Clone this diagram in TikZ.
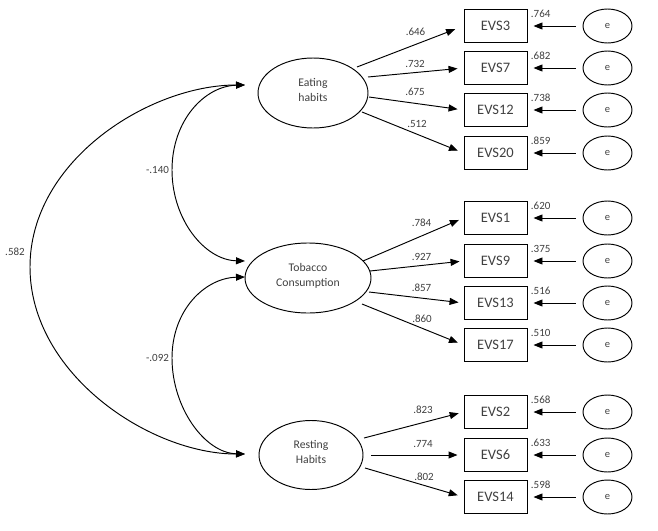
\documentclass[tikz,border=0pt]{standalone}
\usepackage{fontspec}
\setmainfont{Carlito}
\usetikzlibrary{arrows.meta,shapes.geometric,calc}
\definecolor{txt}{HTML}{404040}
\begin{document}
\begin{tikzpicture}[x=1pt,y=-1pt,line width=0.95pt,
  tip/.style={-{Triangle[length=9pt,width=7pt]}},
  dtip/.style={{Triangle[length=9pt,width=7pt]}-{Triangle[length=9pt,width=7pt]}},
  latent/.style={draw,ellipse,inner sep=0pt,minimum height=70pt,align=center,
    text depth=7pt,text=txt,font=\fontsize{11.7}{15}\selectfont},
  ind/.style={draw,rectangle,inner sep=0pt,minimum width=63pt,minimum height=33pt,
    text=txt,font=\fontsize{14.5}{17}\selectfont},
  errc/.style={draw,ellipse,inner sep=0pt,minimum width=49pt,minimum height=34pt,
    text=txt,font=\fontsize{10.5}{12}\selectfont},
  num/.style={inner sep=0pt,text=txt,font=\fontsize{11}{13}\selectfont}]
\useasboundingbox (0,0) rectangle (658,530);

% latent factors
\node[latent,minimum width=110pt] (eat) at (313,93) {Eating\\habits};
\node[latent,minimum width=126pt] (tob) at (308,278) {Tobacco\\Consumption};
\node[latent,minimum width=104pt,minimum height=69pt] (rest) at (311,455) {Resting\\Habits};

% indicators, error terms and residual values
\foreach \n/\y/\rv in {3/26/.764, 7/68/.682, 12/110/.738, 20/153/.859,
                       1/218/.620, 9/261/.375, 13/303/.516, 17/345/.510,
                       2/412/.568, 6/455/.633, 14/497/.598} {
  \node[ind] (evs\n) at (495.5,\y) {EVS\n};
  \node[errc] (e\n) at (607.5,\y) {e};
  \node[num,anchor=west] (res\n) at ($(evs\n.north east)+(3,4.5)$) {\rv};
  \draw[tip,shorten <=7pt,shorten >=6pt] (e\n) -- (evs\n);
}

% loadings: eating habits
\coordinate (eat1) at (357,67);
\coordinate (eat2) at (368,77);
\coordinate (eat3) at (369,97);
\coordinate (eat4) at (362,112);
\draw[tip,shorten >=9pt] (eat1) -- (evs3.west);
\draw[tip,shorten >=6pt] (eat2) -- (evs7.west);
\draw[tip,shorten >=6pt] (eat3) -- (evs12.west);
\draw[tip,shorten >=6pt] (eat4) -- (evs20.west);
\node[num] (l646) at (415.5,32) {.646};
\node[num] (l732) at (415,64) {.732};
\node[num] (l675) at (415,92) {.675};
\node[num] (l512) at (417,124) {.512};

% loadings: tobacco consumption
\coordinate (tob1) at (363,261);
\coordinate (tob2) at (370,271);
\coordinate (tob3) at (369,292);
\coordinate (tob4) at (362,304);
\draw[tip,shorten >=5pt] (tob1) -- (evs1.west);
\draw[tip,shorten >=4pt] (tob2) -- (evs9.west);
\draw[tip,shorten >=5pt] (tob3) -- (evs13.west);
\draw[tip,shorten >=6pt] (tob4) -- (evs17.west);
\node[num] (l784) at (421.5,223) {.784};
\node[num] (l927) at (421.5,257) {.927};
\node[num] (l857) at (421.5,288) {.857};
\node[num] (l860) at (422,319) {.860};

% loadings: resting habits
\coordinate (rest1) at (364,438);
\coordinate (rest2) at (371,455);
\coordinate (rest3) at (365,468);
\draw[tip,shorten >=5pt] (rest1) -- (evs2.west);
\draw[tip,shorten >=6pt] (rest2) -- (evs6.west);
\draw[tip,shorten >=6pt] (rest3) -- (evs14.west);
\node[num] (l823) at (423,410) {.823};
\node[num] (l774) at (423,444) {.774};
\node[num] (l802) at (424,477) {.802};

% covariances between factors
\coordinate (cEat) at (245,85);
\coordinate (cTobA) at (245,261);
\coordinate (cTobB) at (245,277);
\coordinate (cRest) at (245,454);
\draw[dtip] (cEat) .. controls (150,85) and (30,160) .. (30,267)
  .. controls (30,374) and (150,454) .. (cRest);
\draw[dtip] (cEat) .. controls (205,86) and (172,120) .. (172,170)
  .. controls (172,220) and (205,260) .. (cTobA);
\draw[dtip] (cTobB) .. controls (205,278) and (172,310) .. (172,358)
  .. controls (172,408) and (205,453) .. (cRest);
\node[num] (c582) at (15,252) {.582};
\node[num] (c140) at (157.5,170) {-.140};
\node[num] (c092) at (157.5,358) {-.092};
\end{tikzpicture}
\end{document}
